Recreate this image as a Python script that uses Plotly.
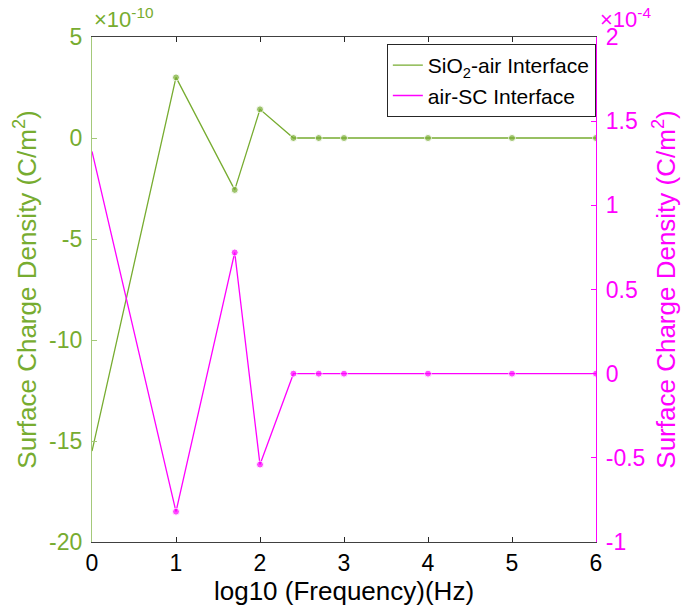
import plotly.graph_objects as go

# Data
x_log_freq = [0, 1, 1.699, 2, 2.398, 2.699, 3, 4, 5, 6]
sio2_air = [-15.5e-10, 3.0e-10, -2.57e-10, 1.42e-10, 0, 0, 0, 0, 0, 0]
air_sc = [1.32e-4, -0.82e-4, 0.72e-4, -0.54e-4, 0, 0, 0, 0, 0, 0]

left_ticks = [-20, -15, -10, -5, 0, 5]
right_ticks = [-1, -0.5, 0, 0.5, 1, 1.5, 2]
x_ticks = [0, 1, 2, 3, 4, 5, 6]

GREEN = "#77AC30"
GREEN_LIGHT = "#A4C97A"
MAGENTA = "#FF00FF"
FONT = "Liberation Sans, Arial, sans-serif"

msize = [0] + [7] * (len(x_log_freq) - 1)

fig = go.Figure()
# lines (shown in legend)
fig.add_trace(go.Scatter(
    x=x_log_freq, y=sio2_air, mode="lines",
    name="SiO<sub>2</sub>-air Interface",
    line=dict(color=GREEN, width=1.3),
))
fig.add_trace(go.Scatter(
    x=x_log_freq, y=air_sc, mode="lines",
    name="air-SC Interface", yaxis="y2",
    line=dict(color=MAGENTA, width=1.3),
))
# markers (not in legend)
fig.add_trace(go.Scatter(
    x=x_log_freq, y=sio2_air, mode="markers", showlegend=False,
    marker=dict(color=GREEN, size=msize), hoverinfo="skip",
))
fig.add_trace(go.Scatter(
    x=x_log_freq, y=air_sc, mode="markers", showlegend=False, yaxis="y2",
    marker=dict(color=MAGENTA, size=msize), hoverinfo="skip",
))

fig.update_layout(
    width=688, height=615,
    margin=dict(l=92, r=92, t=37, b=73),
    paper_bgcolor="white", plot_bgcolor="white",
    font=dict(family=FONT, size=23),
    showlegend=True,
    legend=dict(
        x=0.585, y=0.986, xanchor="left", yanchor="top",
        bgcolor="white", bordercolor="#262626", borderwidth=1,
        font=dict(size=21, color="#000000"),
        itemwidth=30, tracegroupgap=0,
    ),
    xaxis=dict(
        range=[0, 6], tickvals=x_ticks, ticktext=[str(t) for t in x_ticks],
        showgrid=False, zeroline=False, showline=True, linecolor="#404040",
        linewidth=1.3, mirror="ticks", ticks="inside", ticklen=5, tickcolor="#262626",
        tickfont=dict(color="#000000", size=23),
        title=dict(text="log10 (Frequency)(Hz)", font=dict(size=26, color="#000000"), standoff=4),
    ),
    yaxis=dict(
        range=[-20e-10, 5e-10], tickvals=[v * 1e-10 for v in left_ticks],
        ticktext=[str(v) for v in left_ticks],
        showgrid=False, zeroline=False, showline=True, linecolor=GREEN_LIGHT,
        linewidth=1.3, ticks="inside", ticklen=5, tickcolor=GREEN_LIGHT,
        tickfont=dict(color=GREEN, size=23), ticklabelstandoff=4,
        title=dict(text="Surface Charge Density (C/m<sup>2</sup>)", font=dict(size=26, color=GREEN), standoff=4),
    ),
    yaxis2=dict(
        range=[-1e-4, 2e-4], tickvals=[v * 1e-4 for v in right_ticks],
        ticktext=[("%g" % v) for v in right_ticks],
        overlaying="y", side="right", anchor="x",
        showgrid=False, zeroline=False, showline=True, linecolor=MAGENTA,
        linewidth=1.3, ticks="inside", ticklen=5, tickcolor=MAGENTA,
        tickfont=dict(color=MAGENTA, size=23), ticklabelstandoff=4,
        title=dict(text="Surface Charge Density (C/m<sup>2</sup>)", font=dict(size=26, color=MAGENTA), standoff=12),
    ),
    annotations=[
        dict(text="×10<sup>-10</sup>", xref="paper", yref="paper", x=0.0, y=1.0,
             xanchor="left", yanchor="bottom", showarrow=False, yshift=3,
             font=dict(size=22, color=GREEN, family=FONT)),
        dict(text="×10<sup>-4</sup>", xref="paper", yref="paper", x=1.0, y=1.0,
             xanchor="left", yanchor="bottom", showarrow=False, yshift=3, xshift=2,
             font=dict(size=22, color=MAGENTA, family=FONT)),
    ],
)

fig.write_html("out.html")
